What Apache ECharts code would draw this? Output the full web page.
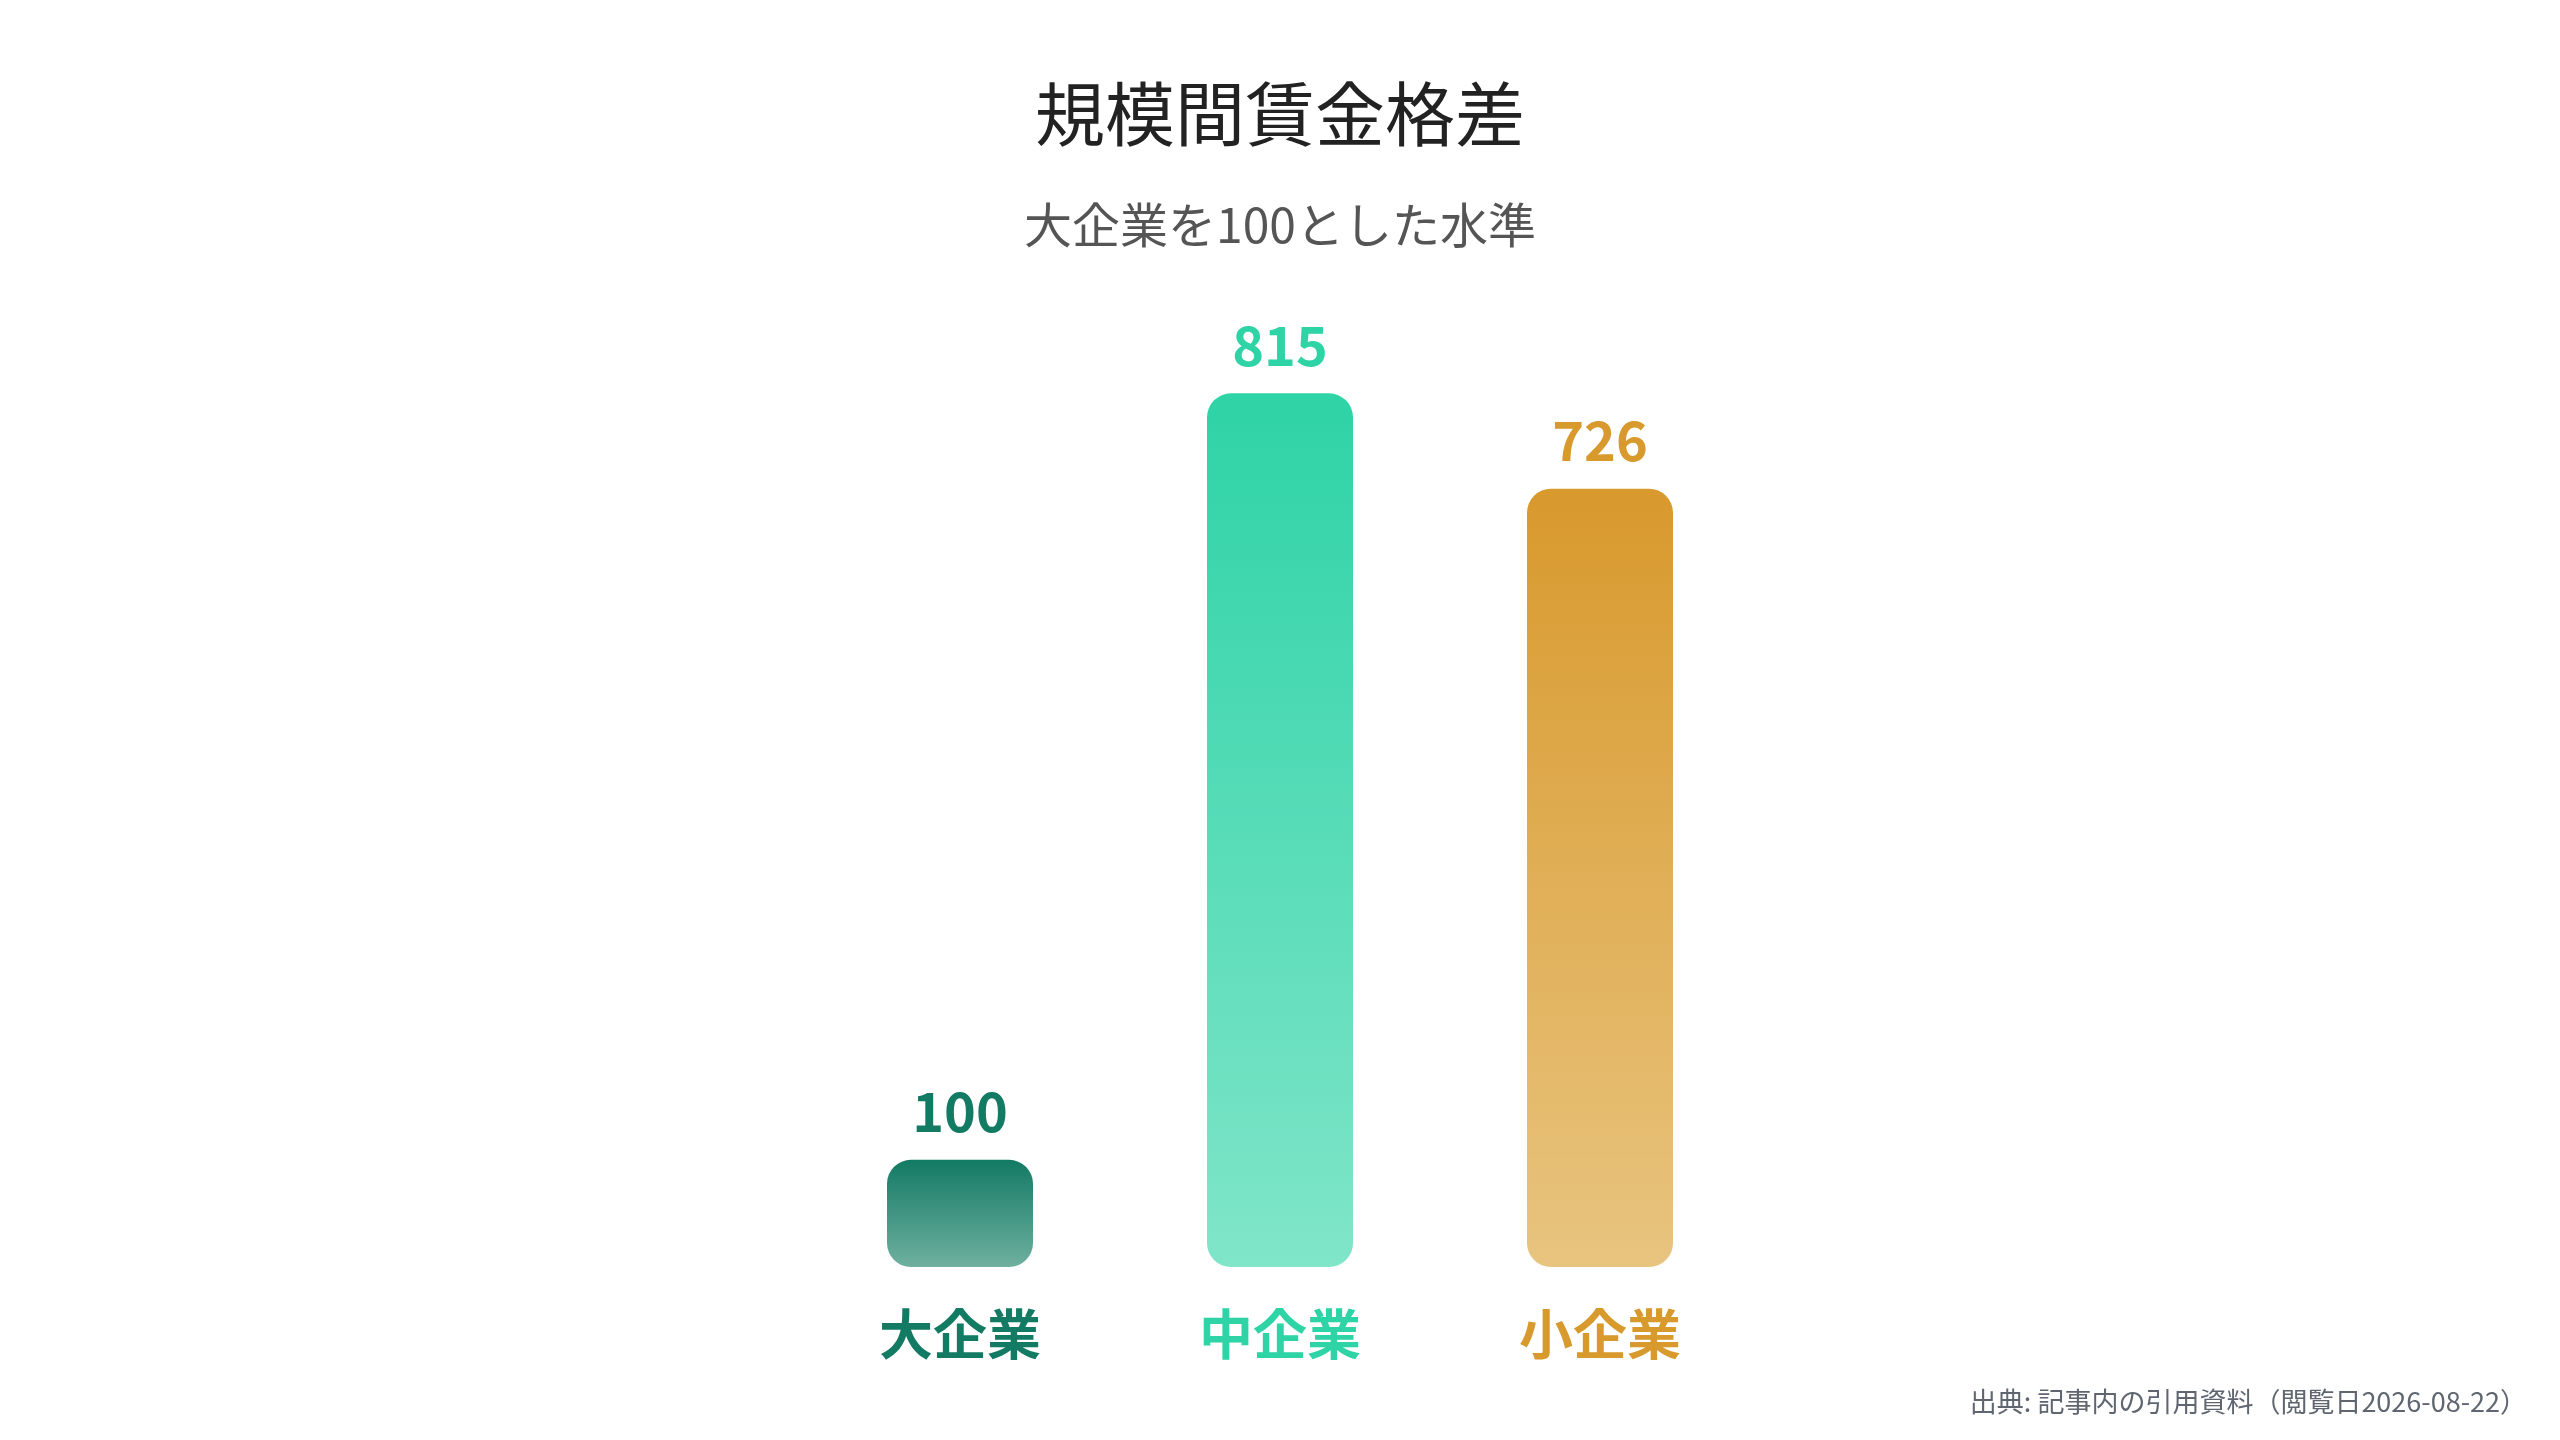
<!DOCTYPE html>
<html><head><meta charset="utf-8">
<script src="https://cdn.jsdelivr.net/npm/echarts@6/dist/echarts.min.js"></script>
<style>html,body{margin:0;padding:0;background:#fff}#c{width:2560px;height:1440px}</style>
</head><body><div id="c"></div>
<script>
const categories = ['大企業', '中企業', '小企業'];
const values = [100, 815, 726];
const topColors = ['#127a64', '#2ed3a6', '#d8992d'];
const bottomColors = ['#6fb0a0', '#80e5c9', '#e8c47f'];
const labelColors = ['#137a63', '#2ed3a6', '#d8992d'];

const chart = echarts.init(document.getElementById('c'));
const font = '"Noto Sans CJK JP", "Noto Sans", sans-serif';
chart.setOption({
  backgroundColor: '#ffffff',
  title: [
    { text: '規模間賃金格差', left: 'center', top: 74, textStyle: { fontFamily: font, fontSize: 70, fontWeight: 'normal', color: '#222222' } },
    { text: '大企業を100とした水準', left: 'center', top: 196, textStyle: { fontFamily: font, fontSize: 48, fontWeight: 'normal', color: '#555555' } },
    { text: '出典: 記事内の引用資料（閲覧日2026-08-22）', right: 28, top: 1383, textStyle: { fontFamily: font, fontSize: 27, fontWeight: 'normal', color: '#5f6670' } }
  ],
  grid: { left: 800, right: 800, top: 195, bottom: 173 },
  xAxis: {
    type: 'category', data: categories,
    axisLine: { show: false }, axisTick: { show: false },
    axisLabel: {
      margin: 40, fontFamily: font, fontSize: 54, fontWeight: 'bold',
      color: function (v, i) { return labelColors[i]; }
    }
  },
  yAxis: { type: 'value', min: 0, max: 1000, show: false, splitLine: { show: false } },
  series: [{
    type: 'bar', barWidth: 146,
    data: values.map((v, i) => ({
      value: v,
      itemStyle: {
        borderRadius: 24,
        color: new echarts.graphic.LinearGradient(0, 0, 0, 1, [
          { offset: 0, color: topColors[i] }, { offset: 1, color: bottomColors[i] }
        ])
      },
      label: { color: labelColors[i] }
    })),
    label: { show: true, position: 'top', distance: 21, fontFamily: font, fontSize: 54, fontWeight: 'bold' }
  }]
});
</script></body></html>
